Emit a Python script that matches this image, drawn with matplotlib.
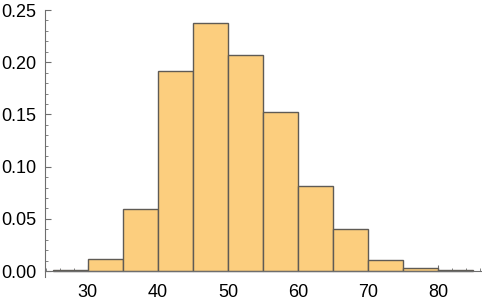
import matplotlib
matplotlib.use("Agg")
import matplotlib.pyplot as plt
from matplotlib.ticker import MultipleLocator, FormatStrFormatter

bin_edges = [25, 30, 35, 40, 45, 50, 55, 60, 65, 70, 75, 80, 85]
densities = [0.001, 0.0115, 0.059, 0.192, 0.238, 0.207, 0.152, 0.081, 0.040, 0.011, 0.0026, 0.0007]
x_ticks = [30, 40, 50, 60, 70, 80]
y_ticks = [0.00, 0.05, 0.10, 0.15, 0.20, 0.25]

plt.rcParams['font.family'] = ['Liberation Sans', 'DejaVu Sans']

fig = plt.figure(figsize=(4.82, 3.05), dpi=100)
ax = fig.add_axes([44.5/482, 1 - 277.3/305, 436.8/482, (277.3 - 9.5)/305])

lefts = bin_edges[:-1]
widths = [b - a for a, b in zip(bin_edges[:-1], bin_edges[1:])]
ax.bar(lefts, densities, width=widths, align='edge', color='#FCCE7E',
       edgecolor='#5f5b55', linewidth=1.0, zorder=2)

ax.set_xlim(23.8, 86.2)
ax.set_ylim(-0.006, 0.2505)

axcol = '#6e6e6e'
for s in ['top', 'right']:
    ax.spines[s].set_visible(False)
ax.spines['bottom'].set_position(('data', 0))
ax.spines['bottom'].set_color(axcol)
ax.spines['left'].set_color(axcol)
ax.spines['bottom'].set_zorder(3)

ax.set_xticks(x_ticks)
ax.set_yticks(y_ticks)
ax.xaxis.set_minor_locator(MultipleLocator(2))
ax.yaxis.set_minor_locator(MultipleLocator(0.01))
ax.yaxis.set_major_formatter(FormatStrFormatter('%.2f'))
ax.tick_params(which='both', direction='in', color=axcol, labelsize=13, labelcolor='black')
ax.tick_params(which='major', length=4, width=0.8)
ax.tick_params(which='minor', length=2.5, width=0.6)
ax.tick_params(axis='x', pad=9)
ax.tick_params(axis='y', pad=6)

fig.savefig('out.png', dpi=100)
